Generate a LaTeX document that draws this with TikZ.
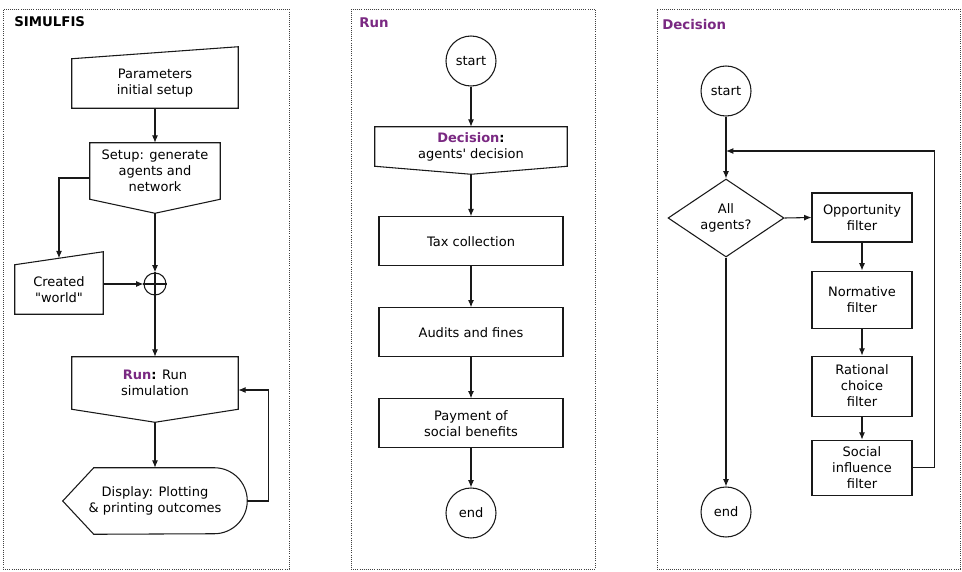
\documentclass[tikz,border=0pt]{standalone}
\usepackage{fontspec}
\setmainfont{DejaVu Sans}
\usetikzlibrary{positioning,shapes.geometric,arrows.meta,calc}
\definecolor{modulepurple}{RGB}{122,41,130}

\begin{document}
\begin{tikzpicture}[
  x=0.75pt,
  y=-0.75pt,
  font=\fontsize{9.75}{12}\selectfont,
  panel/.style={
    rectangle,
    densely dotted,
    draw=black!75,
    line width=0.6pt,
    inner sep=0em,
    minimum height=420pt
  },
  paneltitle/.style={
    anchor=west,
    inner sep=0em,
    font=\fontsize{10}{12}\selectfont\bfseries
  },
  shapebox/.style={
    rectangle,
    align=center,
    inner sep=0em
  },
  outline/.style={
    draw=black!90,
    line width=0.8pt,
    line join=miter
  },
  flowbox/.style={
    rectangle,
    draw=black!90,
    line width=0.8pt,
    align=center,
    inner sep=0em,
    minimum width=138pt,
    minimum height=36.75pt
  },
  filterbox/.style={
    rectangle,
    draw=black!90,
    line width=0.8pt,
    align=center,
    inner sep=0em,
    minimum width=75pt
  },
  terminal/.style={
    circle,
    draw=black!90,
    line width=0.8pt,
    inner sep=0em,
    minimum size=37.5pt
  },
  question/.style={
    diamond,
    draw=black!90,
    line width=0.8pt,
    align=center,
    inner sep=0em,
    aspect=1.5,
    minimum width=87pt,
    minimum height=58.5pt
  },
  flowarrow/.style={
    draw=black!90,
    line width=0.8pt,
    -{Latex[length=5.5pt,width=4.5pt]}
  }]
  \useasboundingbox (0,0) rectangle (962,571);

  % frames and titles
  \node[panel, minimum width=214.5pt] (simpanel) at (146,289) {};
  \node[panel, minimum width=183pt] (runpanel) at (473,289) {};
  \node[panel, minimum width=227.25pt] (decpanel) at (808.5,289) {};
  \node[paneltitle] (simtitle) at (14,22) {SIMULFIS};
  \node[paneltitle, text=modulepurple] (runtitle) at (359,23) {Run};
  \node[paneltitle, text=modulepurple] (dectitle) at (662,25) {Decision};

  % SIMULFIS
  \node[shapebox, minimum width=124.5pt, minimum height=36.75pt] (params) at (155,83.5) {Parameters\\initial setup};
  \draw[outline] (params.south west) -- (params.south east) -- ([yshift=9pt]params.north east) -- (params.north west) -- cycle;

  \node[shapebox, minimum width=97.5pt, minimum height=42pt] (setup) at (155,171) {Setup: generate\\agents and\\network};
  \coordinate (setup tip) at ([yshift=-10.5pt]setup.south);
  \draw[outline] (setup.north west) -- (setup.north east) -- (setup.south east) -- (setup tip) -- (setup.south west) -- cycle;

  \node[shapebox, minimum width=66pt, minimum height=36.75pt] (world) at (59,289.5) {Created\\\textquotedbl world\textquotedbl};
  \coordinate (world top) at ($(world.north west)!0.5!([yshift=9.75pt]world.north east)$);
  \draw[outline] (world.south west) -- (world.south east) -- ([yshift=9.75pt]world.north east) -- (world.north west) -- cycle;

  \node[circle, draw=black!90, line width=0.8pt, inner sep=0em, minimum size=16.5pt] (join) at (155,284) {};
  \draw[outline] (join.north) -- (join.south) (join.west) -- (join.east);

  \node[shapebox, minimum width=124.5pt, minimum height=39pt] (run) at (155,383) {\textcolor{modulepurple}{\textbf{Run}}\textbf{:} Run\\simulation};
  \coordinate (run tip) at ([yshift=-9.75pt]run.south);
  \draw[outline] (run.north west) -- (run.north east) -- (run.south east) -- (run tip) -- (run.south west) -- cycle;

  \node[shapebox, minimum width=138pt, minimum height=49.5pt] (display) at (155,501) {Display: Plotting\\\& printing outcomes};
  \draw[outline] ([xshift=23.25pt]display.north west) -- ([xshift=-24.75pt]display.north east)
    arc[start angle=90, end angle=-90, radius=24.75pt] -- ([xshift=23.25pt]display.south west) -- (display.west) -- cycle;

  \draw[flowarrow] (params.south) -- (setup.north);
  \draw[flowarrow] ([yshift=-5.25pt]setup.west) -| (world top);
  \draw[flowarrow] (setup tip) -- (join.north);
  \draw[flowarrow] (world.east |- join) -- (join.west);
  \draw[flowarrow] (join.south) -- (run.north);
  \draw[flowarrow] (run tip) -- (display.north);
  \draw[flowarrow] (display.east) -- ++(21,0) |- ([yshift=-5.25pt]run.east);

  % Run
  \node[terminal] (runstart) at (471,61) {start};
  \node[shapebox, minimum width=144pt, minimum height=29.25pt] (decide) at (471,146.5) {\textcolor{modulepurple}{\textbf{Decision}}\textbf{:}\\agents\textquotesingle{} decision};
  \coordinate (decide tip) at ([yshift=-6pt]decide.south);
  \draw[outline] (decide.north west) -- (decide.north east) -- (decide.south east) -- (decide tip) -- (decide.south west) -- cycle;
  \node[flowbox, below=31.5pt of decide tip] (tax) {Tax collection};
  \node[flowbox, below=30.75pt of tax] (audit) {Audits and fines};
  \node[flowbox, below=30.75pt of audit] (pay) {Payment of\\social benefits};
  \node[terminal, below=29.25pt of pay] (runend) {end};

  \draw[flowarrow] (runstart.south) -- (decide.north);
  \draw[flowarrow] (decide tip) -- (tax.north);
  \draw[flowarrow] (tax.south) -- (audit.north);
  \draw[flowarrow] (audit.south) -- (pay.north);
  \draw[flowarrow] (pay.south) -- (runend.north);

  % Decision
  \node[terminal] (decstart) at (726,91) {start};
  \node[question] (allagents) at (726,218) {All\\agents?};
  \coordinate (loop in) at (726,151);
  \node[filterbox, minimum height=36.75pt] (opportunity) at (862,217.5) {Opportunity\\filter};
  \node[filterbox, minimum height=42.75pt, below=21pt of opportunity] (normative) {Normative\\filter};
  \node[filterbox, minimum height=45pt, below=20.25pt of normative] (rational) {Rational\\choice\\filter};
  \node[filterbox, minimum height=41.25pt, below=17.25pt of rational] (social) {Social\\influence\\filter};
  \node[terminal] (decend) at (726,512) {end};

  \draw[flowarrow] (decstart.south) -- (allagents.north);
  \draw[flowarrow] (allagents.east) -- (opportunity.west);
  \draw[flowarrow] (opportunity.south) -- (normative.north);
  \draw[flowarrow] (normative.south) -- (rational.north);
  \draw[flowarrow] (rational.south) -- (social.north);
  \draw[flowarrow] (social.east) -- ++(22,0) |- (loop in);
  \draw[flowarrow] (allagents.south) -- (decend.north);
\end{tikzpicture}
\end{document}
